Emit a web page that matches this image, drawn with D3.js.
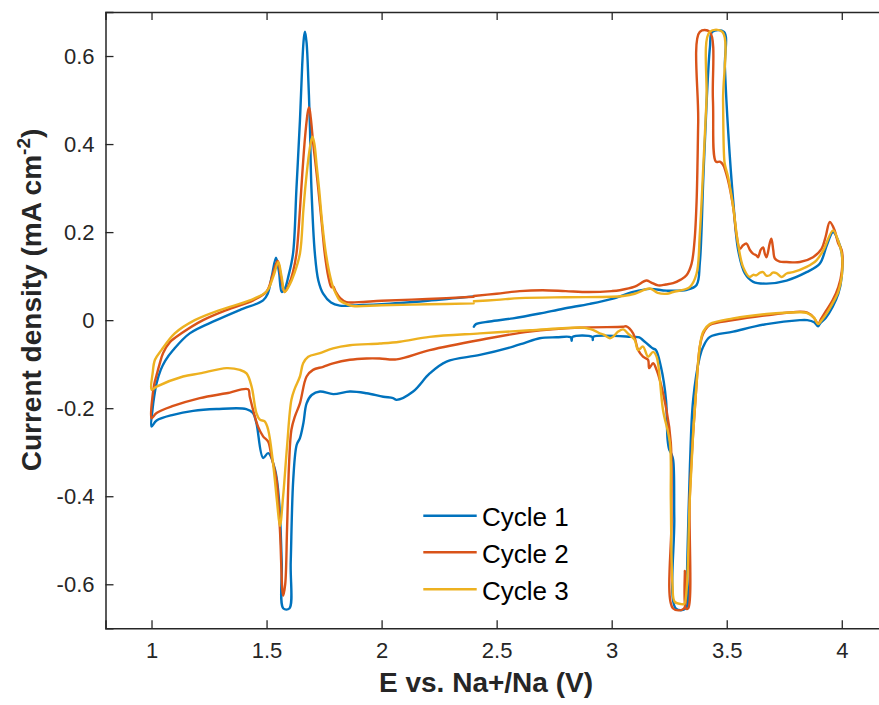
<!DOCTYPE html>
<html>
<head>
<meta charset="utf-8">
<script src="https://cdn.jsdelivr.net/npm/d3@7"></script>
<style>
  html, body { margin: 0; padding: 0; background: #fff; }
  svg { display: block; }
  text { font-family: "Liberation Sans", Arial, Helvetica, sans-serif; }
</style>
</head>
<body>
<svg id="chart" width="879" height="705"></svg>
<script>
// CV data: [E (V vs Na+/Na), current density (mA cm-2)]
// each cycle: OCV/2.4 V -> 4.0 V -> 1.0 V -> 2.4 V
const cycle1 = [
  [2.401,-0.015],[2.41,-0.009],[2.47,-0.003],[2.571,0.004],[2.687,0.015],[2.789,0.026],[2.905,0.037],
  [3.006,0.049],[3.093,0.064],[3.166,0.071],[3.238,0.067],[3.327,0.069],[3.369,0.080],[3.383,0.13],
  [3.398,0.32],[3.413,0.50],[3.427,0.62],[3.437,0.655],[3.488,0.655],[3.492,0.574],[3.507,0.423],
  [3.528,0.272],[3.550,0.158],[3.579,0.106],[3.615,0.087],[3.673,0.083],[3.760,0.090],[3.847,0.109],
  [3.904,0.128],[3.935,0.170],[3.962,0.200],[3.984,0.181],[4.0,0.151],
  [4.0,0.10],[3.985,0.06],[3.96,0.03],[3.93,0.005],[3.905,-0.008],[3.897,-0.014],[3.88,-0.005],
  [3.85,0.0],[3.818,0.0],[3.673,-0.009],[3.528,-0.026],[3.427,-0.038],[3.398,-0.06],[3.383,-0.083],
  [3.354,-0.181],[3.340,-0.332],[3.328,-0.559],[3.322,-0.655],[3.279,-0.655],[3.272,-0.45],
  [3.267,-0.317],[3.258,-0.302],[3.250,-0.294],[3.243,-0.272],[3.236,-0.181],[3.214,-0.106],
  [3.192,-0.068],[3.178,-0.064],[3.135,-0.045],[3.120,-0.039],[3.093,-0.038],[2.92,-0.038],
  [2.918,-0.045],[2.915,-0.038],[2.83,-0.038],[2.826,-0.047],[2.822,-0.039],[2.76,-0.039],
  [2.687,-0.041],[2.62,-0.052],[2.571,-0.06],[2.427,-0.079],[2.282,-0.094],[2.209,-0.121],
  [2.137,-0.162],[2.065,-0.181],[2.050,-0.177],[2.007,-0.174],[1.935,-0.166],[1.862,-0.162],
  [1.790,-0.168],[1.732,-0.162],[1.696,-0.17],[1.674,-0.189],[1.660,-0.234],[1.645,-0.268],
  [1.631,-0.283],[1.616,-0.362],[1.605,-0.55],[1.599,-0.655],[1.573,-0.655],[1.566,-0.551],
  [1.555,-0.415],[1.537,-0.34],[1.507,-0.302],[1.485,-0.313],[1.456,-0.234],[1.441,-0.211],
  [1.412,-0.202],[1.282,-0.202],[1.181,-0.206],[1.094,-0.215],[1.022,-0.228],[1.0,-0.2415],
  [1.005,-0.20],[1.012,-0.172],[1.022,-0.143],[1.04,-0.113],[1.06,-0.092],[1.094,-0.068],
  [1.166,-0.03],[1.282,0.0],[1.383,0.023],[1.485,0.045],[1.505,0.06],[1.523,0.10],[1.541,0.142],
  [1.554,0.11],[1.566,0.064],[1.58,0.072],[1.595,0.10],[1.615,0.151],[1.630,0.30],[1.645,0.453],
  [1.655,0.58],[1.662,0.64],[1.667,0.655],[1.674,0.63],[1.682,0.54],[1.688,0.45],[1.695,0.30],
  [1.710,0.151],[1.725,0.09],[1.746,0.06],[1.78,0.04],[1.818,0.033],[1.9,0.034],[2.0,0.036],
  [2.2,0.044],[2.4,0.054]
];

const cycle2 = [
  [2.401,0.055],[2.5,0.060],[2.6,0.066],[2.7,0.068],[2.8,0.066],[2.9,0.064],[3.0,0.066],
  [3.035,0.068],[3.1,0.076],[3.151,0.090],[3.17,0.086],[3.202,0.079],[3.235,0.081],[3.267,0.084],
  [3.3,0.092],[3.325,0.102],[3.347,0.128],[3.36,0.18],[3.369,0.27],[3.376,0.45],[3.383,0.655],
  [3.426,0.655],[3.440,0.5],[3.453,0.36],[3.470,0.36],[3.484,0.353],[3.506,0.317],[3.528,0.257],
  [3.542,0.196],[3.557,0.162],[3.571,0.17],[3.586,0.174],[3.600,0.16],[3.614,0.151],[3.629,0.147],
  [3.636,0.143],[3.648,0.16],[3.658,0.165],[3.666,0.15],[3.673,0.143],[3.687,0.175],[3.694,0.185],
  [3.702,0.16],[3.709,0.14],[3.73,0.133],[3.76,0.132],[3.818,0.132],[3.875,0.143],[3.912,0.162],
  [3.93,0.19],[3.948,0.223],[3.969,0.204],[3.984,0.175],[4.0,0.158],
  [4.0,0.11],[3.985,0.075],[3.96,0.045],[3.93,0.02],[3.91,0.003],[3.897,-0.009],[3.88,0.005],
  [3.85,0.017],[3.818,0.019],[3.673,0.011],[3.528,0.0],[3.426,-0.011],[3.398,-0.03],[3.383,-0.06],
  [3.369,-0.143],[3.354,-0.257],[3.339,-0.408],[3.332,-0.655],[3.322,-0.655],[3.318,-0.57],
  [3.314,-0.655],[3.267,-0.655],[3.26,-0.45],[3.257,-0.279],[3.238,-0.204],[3.195,-0.113],
  [3.180,-0.098],[3.163,-0.109],[3.158,-0.09],[3.136,-0.083],[3.115,-0.068],[3.093,-0.03],
  [3.064,-0.014],[3.050,-0.015],[2.861,-0.017],[2.644,-0.026],[2.427,-0.045],[2.209,-0.068],
  [2.065,-0.089],[1.992,-0.087],[1.934,-0.087],[1.862,-0.09],[1.789,-0.098],[1.746,-0.106],
  [1.702,-0.113],[1.674,-0.128],[1.645,-0.189],[1.623,-0.219],[1.608,-0.249],[1.598,-0.324],
  [1.589,-0.475],[1.581,-0.6],[1.572,-0.626],[1.558,-0.475],[1.543,-0.362],[1.521,-0.309],
  [1.507,-0.276],[1.485,-0.264],[1.463,-0.242],[1.427,-0.174],[1.420,-0.157],[1.326,-0.166],
  [1.210,-0.177],[1.094,-0.195],[1.022,-0.211],[1.0,-0.223],
  [1.005,-0.17],[1.012,-0.145],[1.022,-0.125],[1.035,-0.1],[1.05,-0.075],[1.08,-0.05],
  [1.130,-0.03],[1.224,0.0],[1.326,0.023],[1.442,0.045],[1.5,0.065],[1.525,0.1],[1.548,0.135],
  [1.562,0.1],[1.578,0.064],[1.6,0.085],[1.615,0.11],[1.630,0.151],[1.645,0.25],[1.655,0.33],
  [1.668,0.42],[1.680,0.475],[1.685,0.483],[1.692,0.46],[1.703,0.40],[1.714,0.35],[1.724,0.302],
  [1.74,0.22],[1.753,0.151],[1.768,0.10],[1.782,0.075],[1.79,0.076],[1.80,0.065],[1.82,0.05],
  [1.847,0.041],[1.9,0.041],[2.0,0.044],[2.2,0.048],[2.4,0.053]
];

const cycle3 = [
  [2.401,0.043],[2.5,0.046],[2.6,0.05],[2.8,0.052],[3.0,0.053],[3.05,0.055],[3.1,0.06],
  [3.165,0.072],[3.2,0.062],[3.24,0.06],[3.267,0.064],[3.339,0.075],[3.369,0.106],[3.383,0.196],
  [3.398,0.347],[3.412,0.498],[3.426,0.655],[3.481,0.655],[3.484,0.498],[3.490,0.36],[3.496,0.345],
  [3.506,0.325],[3.528,0.257],[3.549,0.174],[3.571,0.121],[3.600,0.098],[3.615,0.103],[3.629,0.102],
  [3.645,0.108],[3.658,0.109],[3.672,0.101],[3.687,0.102],[3.700,0.108],[3.716,0.107],[3.738,0.098],
  [3.76,0.106],[3.788,0.109],[3.847,0.121],[3.890,0.136],[3.919,0.158],[3.962,0.204],[3.984,0.181],
  [4.0,0.151],
  [4.0,0.10],[3.985,0.065],[3.96,0.038],[3.93,0.012],[3.91,-0.002],[3.897,-0.009],[3.88,0.005],
  [3.85,0.016],[3.818,0.018],[3.673,0.014],[3.528,0.004],[3.426,-0.009],[3.398,-0.026],[3.383,-0.06],
  [3.369,-0.143],[3.354,-0.257],[3.339,-0.41],[3.326,-0.61],[3.315,-0.645],[3.303,-0.645],
  [3.274,-0.64],[3.264,-0.6],[3.257,-0.408],[3.253,-0.279],[3.223,-0.204],[3.195,-0.083],
  [3.180,-0.072],[3.158,-0.083],[3.136,-0.06],[3.115,-0.068],[3.100,-0.045],[3.07,-0.03],
  [3.050,-0.021],[3.028,-0.026],[3.005,-0.038],[2.992,-0.041],[2.965,-0.033],[2.948,-0.03],
  [2.934,-0.026],[2.905,-0.02],[2.876,-0.017],[2.644,-0.023],[2.427,-0.03],[2.209,-0.038],
  [2.079,-0.049],[1.992,-0.053],[1.862,-0.057],[1.789,-0.064],[1.732,-0.075],[1.681,-0.083],
  [1.659,-0.098],[1.645,-0.128],[1.623,-0.155],[1.608,-0.181],[1.589,-0.287],[1.572,-0.4],
  [1.558,-0.468],[1.546,-0.415],[1.528,-0.324],[1.507,-0.249],[1.492,-0.23],[1.471,-0.226],
  [1.456,-0.211],[1.435,-0.151],[1.413,-0.121],[1.384,-0.113],[1.326,-0.109],[1.210,-0.121],
  [1.137,-0.128],[1.022,-0.151],[1.0,-0.158],
  [1.005,-0.12],[1.015,-0.09],[1.043,-0.068],[1.101,-0.03],[1.188,0.0],[1.297,0.023],
  [1.427,0.045],[1.5,0.065],[1.53,0.1],[1.551,0.132],[1.565,0.1],[1.579,0.064],[1.6,0.08],
  [1.62,0.105],[1.645,0.151],[1.66,0.25],[1.67,0.31],[1.685,0.38],[1.695,0.41],[1.70,0.417],
  [1.708,0.40],[1.718,0.35],[1.728,0.30],[1.742,0.22],[1.758,0.151],[1.772,0.11],[1.789,0.075],
  [1.80,0.062],[1.818,0.045],[1.85,0.036],[1.876,0.032],[2.0,0.034],[2.2,0.036],[2.4,0.038]
];

const seriesNames = ["Cycle 1", "Cycle 2", "Cycle 3"];
const seriesColors = ["#0072BD", "#D95319", "#EDB120"];
const xTicks = [1, 1.5, 2, 2.5, 3, 3.5, 4];
const yTicks = [-0.6, -0.4, -0.2, 0, 0.2, 0.4, 0.6];

const svg = d3.select("#chart");
const axisColor = "#262626";

// plot box (right edge runs past the crop of the picture)
const boxLeft = 105.5, boxRight = 887.8, boxTop = 12, boxBottom = 628.3;

const x = d3.scaleLinear().domain([0.8, 4.2]).range([boxLeft, boxRight]);
const y = d3.scaleLinear().domain([-0.7, 0.7]).range([boxBottom, boxTop]);

// curves, smoothed a little so the traced points do not look angular
const line = d3.line()
  .x(d => x(d[0]))
  .y(d => y(d[1]))
  .curve(d3.curveCatmullRom.alpha(0.5));
const series = [cycle1, cycle2, cycle3];

svg.append("g")
  .selectAll("path")
  .data(series)
  .join("path")
  .attr("d", line)
  .attr("fill", "none")
  .attr("stroke", (d, i) => seriesColors[i])
  .attr("stroke-width", 2.4)
  .attr("stroke-linejoin", "round")
  .attr("stroke-linecap", "round");

// axes, MATLAB style: ticks pointing inward
const fmt = d => (d === 0 ? "0" : String(d));

const xAxis = svg.append("g")
  .attr("transform", `translate(0,${boxBottom})`)
  .call(d3.axisBottom(x).tickValues(xTicks).tickSize(-8).tickPadding(14).tickFormat(fmt));

const xTop = svg.append("g")
  .attr("transform", `translate(0,${boxTop})`)
  .call(d3.axisTop(x).tickValues(xTicks).tickSize(-8).tickFormat(""));

const yAxis = svg.append("g")
  .attr("transform", `translate(${boxLeft},0)`)
  .call(d3.axisLeft(y).tickValues(yTicks).tickSize(-8).tickPadding(11).tickFormat(fmt));

[xAxis, xTop, yAxis].forEach(g => {
  g.select(".domain").attr("stroke", axisColor).attr("stroke-width", 1.5);
  g.selectAll(".tick line").attr("stroke", axisColor).attr("stroke-width", 1.3);
  g.selectAll(".tick text")
    .attr("fill", axisColor)
    .style("font-size", "22px")
    .style("font-family", "'Liberation Sans', Arial, sans-serif");
});

// axis titles
svg.append("text")
  .attr("x", 486)
  .attr("y", 692)
  .attr("text-anchor", "middle")
  .attr("fill", axisColor)
  .style("font-size", "28px")
  .style("font-weight", "bold")
  .text("E vs. Na+/Na (V)");

const yl = svg.append("text")
  .attr("transform", "translate(41,300) rotate(-90)")
  .attr("text-anchor", "middle")
  .attr("fill", axisColor)
  .style("font-size", "28px")
  .style("font-weight", "bold");
yl.append("tspan").text("Current density (mA cm");
yl.append("tspan").attr("dy", -11).style("font-size", "19px").text("-2");
yl.append("tspan").attr("dy", 11).text(")");

// legend, no box
const legend = svg.append("g");
const legY = [515.7, 552.3, 589.3];
seriesNames.forEach((name, i) => {
  legend.append("line")
    .attr("x1", 423.3).attr("x2", 476.7)
    .attr("y1", legY[i]).attr("y2", legY[i])
    .attr("stroke", seriesColors[i])
    .attr("stroke-width", 2.4);
  legend.append("text")
    .attr("x", 482)
    .attr("y", legY[i] + 10.5)
    .attr("fill", "#000")
    .style("font-size", "26px")
    .text(name);
});
</script>
</body>
</html>
